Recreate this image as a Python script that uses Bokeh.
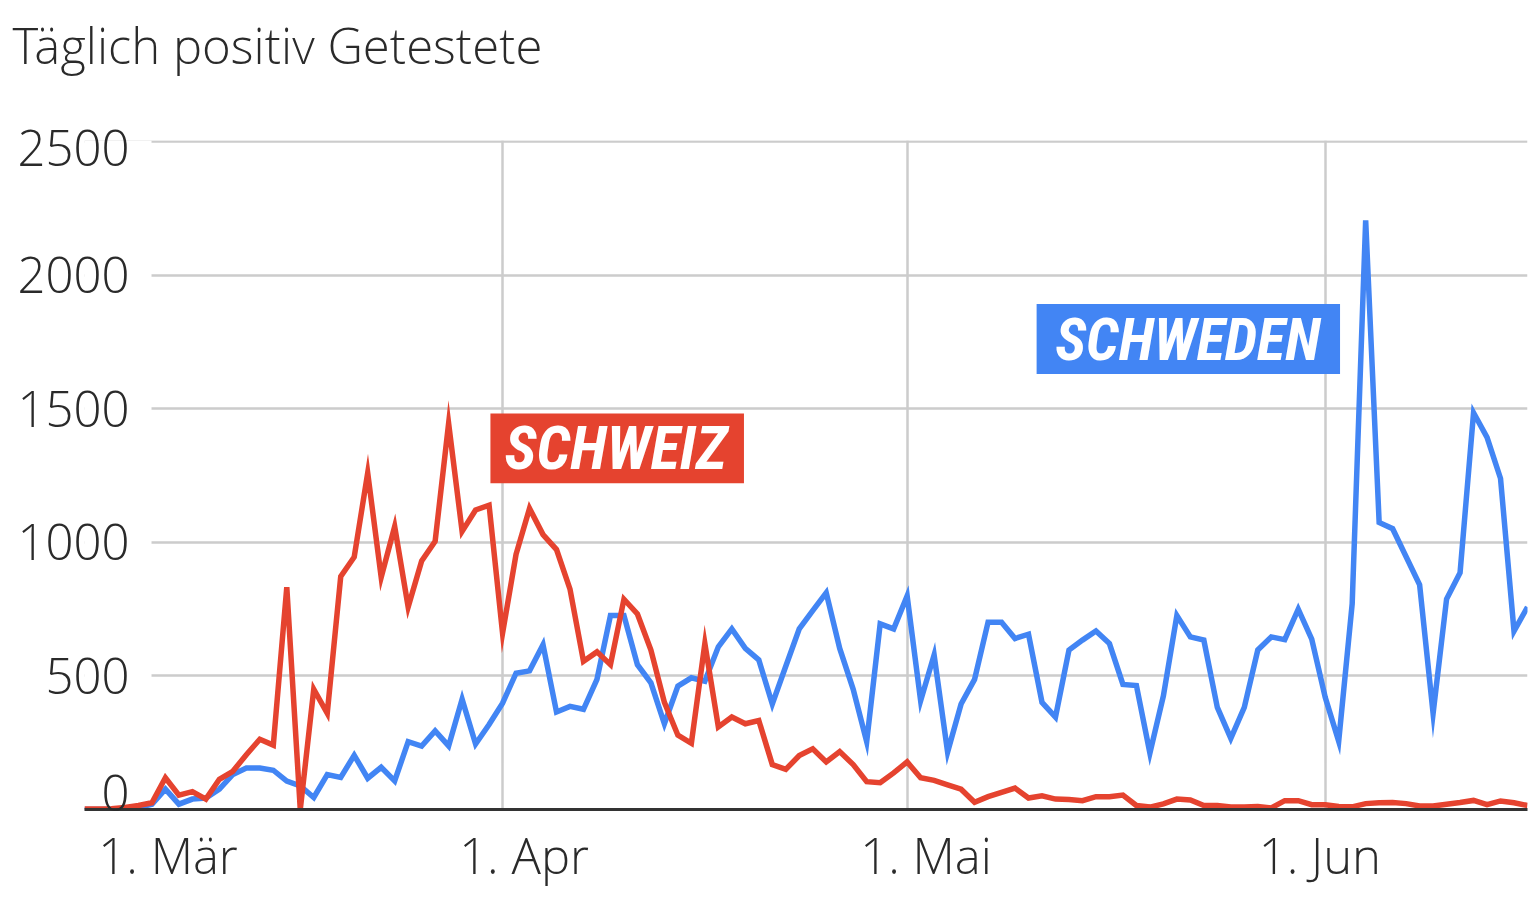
import numpy as np
from bokeh.plotting import figure
from bokeh.models import Range1d, FixedTicker, BoxAnnotation, Label, Title
from bokeh.embed import file_html
from bokeh.resources import INLINE

# Days counted from 1 March 2020 (index 0) to 16 June 2020 (index 107)
schweiz = [2, 2, 3, 8, 15, 25, 119, 54, 67, 39, 113, 143, 205, 263, 241, 832, 0, 450, 360, 872,
           945, 1260, 869, 1059, 758, 930, 1004, 1445, 1041, 1121, 1139, 660, 955, 1127, 1029, 973,
           825, 555, 590, 542, 787, 732, 597, 401, 278, 248, 621, 309, 346, 321, 333, 168, 150, 202,
           227, 178, 217, 168, 104, 100, 137, 178, 119, 109, 92, 76, 27, 48, 64, 80, 43, 51, 39, 37,
           33, 48, 48, 54, 15, 9, 21, 39, 36, 15, 15, 9, 9, 11, 6, 33, 33, 18, 18, 11, 10, 22, 25,
           26, 22, 13, 13, 20, 26, 34, 18, 32, 25, 15]
schweden = [0, 0, 0, 2, 8, 20, 76, 20, 39, 43, 76, 131, 155, 155, 147, 106, 88, 45, 131, 120, 203,
            117, 158, 107, 254, 237, 294, 238, 413, 245, 318, 398, 510, 519, 617, 365, 386, 375, 487,
            726, 726, 542, 474, 321, 462, 493, 480, 609, 676, 603, 560, 395, 536, 676, 744, 811, 603,
            450, 254, 695, 676, 799, 407, 578, 215, 395, 487, 701, 701, 640, 656, 401, 346, 597, 634,
            668, 621, 468, 464, 211, 425, 726, 646, 634, 382, 266, 382, 597, 646, 636, 750, 638, 420,
            255, 770, 2205, 1074, 1051, 946, 841, 360, 788, 886, 1485, 1393, 1239, 668, 758]
days = list(range(len(schweiz)))

month_starts = [31, 61, 92]                       # 1. Apr, 1. Mai, 1. Jun
x_label_pos = [6.2, 32.6, 62.4, 91.6]
x_labels = ["1. Mär", "1. Apr", "1. Mai", "1. Jun"]
y_grid = [0, 500, 1000, 1500, 2000, 2500]
y_label_pos = [62, 500, 1000, 1500, 2000, 2475]
y_labels = ["0", "500", "1000", "1500", "2000", "2500"]
title = "Täglich positiv Getestete"

RED = "#e5432f"
BLUE = "#4285f4"
TXT = "#2a2a2a"
LIGHT = "Open Sans Light, Open Sans"
COND = "Liberation Sans Narrow, Roboto Condensed, DejaVu Sans Condensed, Liberation Sans"

p = figure(width=1528, height=890, output_backend="svg", toolbar_location=None,
           x_range=Range1d(0, 107), y_range=Range1d(0, 2504),
           min_border_left=84, min_border_right=1, min_border_top=140, min_border_bottom=71)
p.outline_line_color = None
p.background_fill_color = "white"

# the visible title
p.title.text = title
p.title.align = "left"
p.title.offset = -72
p.title.standoff = 8
p.title.text_font = LIGHT
p.title.text_font_size = "49px"
p.title.text_font_style = "normal"
p.title.text_color = TXT
# blank spacer between title and plot frame
p.add_layout(Title(text=" ", text_font_size="10px", standoff=46), "above")

p.xgrid.ticker = FixedTicker(ticks=month_starts)
p.ygrid.ticker = FixedTicker(ticks=y_grid)
for g in (p.xgrid, p.ygrid):
    g.grid_line_color = "#cccccc"
    g.grid_line_width = 2.5

# white cover so horizontal gridlines start right of the value labels
p.add_layout(BoxAnnotation(left=0, right=4.97, fill_color="white", fill_alpha=1,
                           line_alpha=0, level="underlay"))

xa = p.xaxis[0]
xa.ticker = FixedTicker(ticks=x_label_pos)
xa.major_label_overrides = dict(zip(x_label_pos, x_labels))
xa.axis_line_color = "#333333"
xa.axis_line_width = 3
xa.major_tick_line_color = None
xa.minor_tick_line_color = None
xa.major_label_standoff = 6
xa.major_label_text_font = LIGHT
xa.major_label_text_font_size = "49px"
xa.major_label_text_color = TXT

ya = p.yaxis[0]
ya.ticker = FixedTicker(ticks=y_label_pos)
ya.major_label_overrides = dict(zip(y_label_pos, y_labels))
ya.axis_line_color = None
ya.major_tick_line_color = None
ya.minor_tick_line_color = None
ya.major_label_standoff = -51
ya.major_label_text_font = LIGHT
ya.major_label_text_font_size = "49px"
ya.major_label_text_color = TXT

p.line(days, schweden, line_color=BLUE, line_width=5.5, line_join="miter")
p.line(days, schweiz, line_color=RED, line_width=5.5, line_join="miter")

# series labels
p.add_layout(BoxAnnotation(left=30.1, right=48.9, bottom=1221, top=1482,
                           fill_color=RED, fill_alpha=1, line_alpha=0))
p.add_layout(Label(x=39.4, y=1352, text="SCHWEIZ", text_align="center", text_baseline="middle",
                   text_font=COND, text_font_size="61px", text_font_style="bold italic",
                   text_color="white"))
p.add_layout(BoxAnnotation(left=70.6, right=93.1, bottom=1630, top=1892,
                           fill_color=BLUE, fill_alpha=1, line_alpha=0))
p.add_layout(Label(x=81.8, y=1761, text="SCHWEDEN", text_align="center", text_baseline="middle",
                   text_font=COND, text_font_size="59px", text_font_style="bold italic",
                   text_color="white"))

open("out.html", "w").write(file_html(p, INLINE))
